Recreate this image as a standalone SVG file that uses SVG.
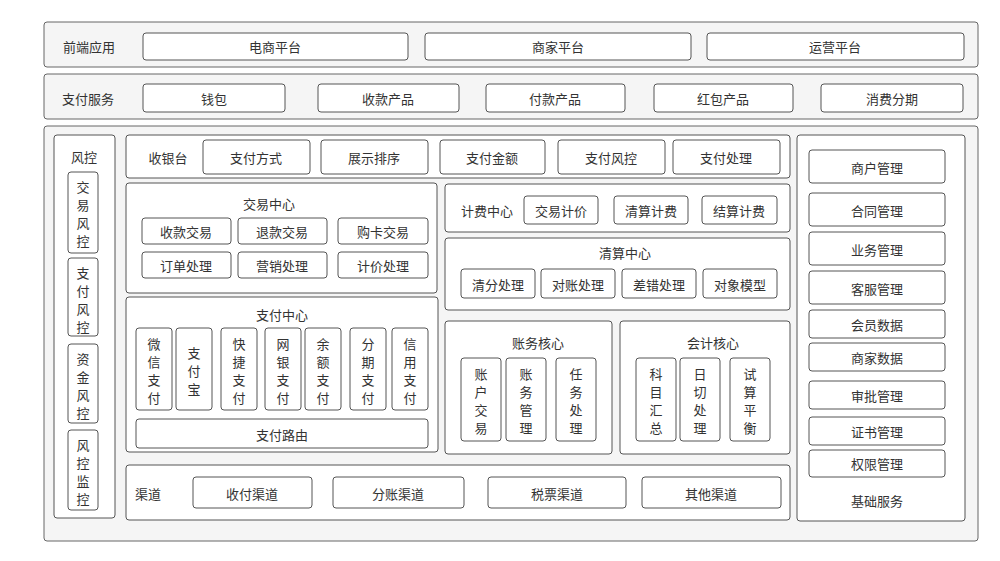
<svg xmlns="http://www.w3.org/2000/svg" width="1000" height="561" viewBox="0 0 1000 561">
<style>
.p{fill:#f5f5f5;stroke:#666;stroke-width:1}
.b{fill:#fff;stroke:#555;stroke-width:1}
text{font-family:"Noto Sans CJK SC","Noto Sans",sans-serif;font-size:13px;fill:#333;text-anchor:middle;dominant-baseline:central}
</style>
<rect width="1000" height="561" fill="#fff"/>
<g id="frontend">
<rect class="p" x="44" y="22" width="934" height="45" rx="3"/>
<text x="89" y="46">前端应用</text>
<rect class="b" x="143" y="33" width="265" height="27" rx="3"/><text x="275" y="46">电商平台</text>
<rect class="b" x="425" y="33" width="266" height="27" rx="3"/><text x="558" y="46">商家平台</text>
<rect class="b" x="707" y="33" width="257" height="27" rx="3"/><text x="835" y="46">运营平台</text>
</g>
<g id="payservice">
<rect class="p" x="44" y="74" width="934" height="45" rx="3"/>
<text x="88" y="98">支付服务</text>
<rect class="b" x="143" y="84" width="142" height="28" rx="3"/><text x="214" y="98">钱包</text>
<rect class="b" x="318" y="84" width="141" height="28" rx="3"/><text x="388" y="98">收款产品</text>
<rect class="b" x="486" y="84" width="139" height="28" rx="3"/><text x="555" y="98">付款产品</text>
<rect class="b" x="654" y="84" width="139" height="28" rx="3"/><text x="723" y="98">红包产品</text>
<rect class="b" x="821" y="84" width="142" height="28" rx="3"/><text x="892" y="98">消费分期</text>
</g>
<g id="main">
<rect class="p" x="44" y="126" width="934" height="415" rx="3"/>
</g>
<g id="risk">
<rect class="b" x="54" y="135" width="61" height="383" rx="3"/>
<text x="84" y="156">风控</text>
<rect class="b" x="68" y="172" width="30" height="81" rx="3"/>
<text x="83" y="186">交</text><text x="83" y="204">易</text><text x="83" y="222">风</text><text x="83" y="240">控</text>
<rect class="b" x="68" y="258" width="30" height="78" rx="3"/>
<text x="83" y="272">支</text><text x="83" y="290">付</text><text x="83" y="308">风</text><text x="83" y="326">控</text>
<rect class="b" x="68" y="344" width="30" height="79" rx="3"/>
<text x="83" y="358">资</text><text x="83" y="376">金</text><text x="83" y="394">风</text><text x="83" y="412">控</text>
<rect class="b" x="68" y="430" width="30" height="80" rx="3"/>
<text x="83" y="444">风</text><text x="83" y="462">控</text><text x="83" y="480">监</text><text x="83" y="498">控</text>
</g>
<g id="cashier">
<rect class="b" x="126" y="135" width="664" height="43" rx="3"/>
<text x="168" y="157">收银台</text>
<rect class="b" x="203" y="140" width="107" height="34" rx="3"/><text x="256" y="157">支付方式</text>
<rect class="b" x="321" y="140" width="107" height="34" rx="3"/><text x="374" y="157">展示排序</text>
<rect class="b" x="440" y="140" width="105" height="34" rx="3"/><text x="492" y="157">支付金额</text>
<rect class="b" x="558" y="140" width="107" height="34" rx="3"/><text x="611" y="157">支付风控</text>
<rect class="b" x="673" y="140" width="107" height="34" rx="3"/><text x="726" y="157">支付处理</text>
</g>
<g id="trade">
<rect class="b" x="126" y="183" width="311" height="110" rx="3"/>
<text x="269" y="203">交易中心</text>
<rect class="b" x="142" y="218" width="89" height="26" rx="3"/><text x="186" y="231">收款交易</text>
<rect class="b" x="238" y="218" width="89" height="26" rx="3"/><text x="282" y="231">退款交易</text>
<rect class="b" x="338" y="218" width="90" height="26" rx="3"/><text x="383" y="231">购卡交易</text>
<rect class="b" x="142" y="252" width="89" height="26" rx="3"/><text x="186" y="265">订单处理</text>
<rect class="b" x="238" y="252" width="89" height="26" rx="3"/><text x="282" y="265">营销处理</text>
<rect class="b" x="338" y="252" width="90" height="26" rx="3"/><text x="383" y="265">计价处理</text>
</g>
<g id="paycenter">
<rect class="b" x="126" y="297" width="312" height="155" rx="3"/>
<text x="282" y="314">支付中心</text>
<rect class="b" x="136" y="328" width="36" height="82" rx="3"/>
<text x="154" y="343">微</text><text x="154" y="361">信</text><text x="154" y="379">支</text><text x="154" y="397">付</text>
<rect class="b" x="176" y="328" width="36" height="82" rx="3"/>
<text x="194" y="352">支</text><text x="194" y="370">付</text><text x="194" y="388">宝</text>
<rect class="b" x="221" y="328" width="36" height="82" rx="3"/>
<text x="239" y="343">快</text><text x="239" y="361">捷</text><text x="239" y="379">支</text><text x="239" y="397">付</text>
<rect class="b" x="265" y="328" width="36" height="82" rx="3"/>
<text x="283" y="343">网</text><text x="283" y="361">银</text><text x="283" y="379">支</text><text x="283" y="397">付</text>
<rect class="b" x="305" y="328" width="36" height="82" rx="3"/>
<text x="323" y="343">余</text><text x="323" y="361">额</text><text x="323" y="379">支</text><text x="323" y="397">付</text>
<rect class="b" x="350" y="328" width="36" height="82" rx="3"/>
<text x="368" y="343">分</text><text x="368" y="361">期</text><text x="368" y="379">支</text><text x="368" y="397">付</text>
<rect class="b" x="392" y="328" width="36" height="82" rx="3"/>
<text x="410" y="343">信</text><text x="410" y="361">用</text><text x="410" y="379">支</text><text x="410" y="397">付</text>
<rect class="b" x="136" y="419" width="292" height="29" rx="3"/><text x="282" y="434">支付路由</text>
</g>
<g id="fee">
<rect class="b" x="445" y="184" width="345" height="48" rx="3"/>
<text x="487" y="210">计费中心</text>
<rect class="b" x="524" y="196" width="74" height="28" rx="3"/><text x="561" y="210">交易计价</text>
<rect class="b" x="614" y="196" width="74" height="28" rx="3"/><text x="651" y="210">清算计费</text>
<rect class="b" x="702" y="196" width="75" height="28" rx="3"/><text x="739" y="210">结算计费</text>
</g>
<g id="clearing">
<rect class="b" x="445" y="238" width="345" height="72" rx="3"/>
<text x="625" y="252">清算中心</text>
<rect class="b" x="461" y="269" width="74" height="29" rx="3"/><text x="498" y="284">清分处理</text>
<rect class="b" x="541" y="269" width="74" height="29" rx="3"/><text x="578" y="284">对账处理</text>
<rect class="b" x="622" y="269" width="74" height="29" rx="3"/><text x="659" y="284">差错处理</text>
<rect class="b" x="703" y="269" width="74" height="29" rx="3"/><text x="740" y="284">对象模型</text>
</g>
<g id="account">
<rect class="b" x="445" y="321" width="167" height="133" rx="3"/>
<text x="538" y="342">账务核心</text>
<rect class="b" x="461" y="358" width="40" height="83" rx="3"/>
<text x="481" y="373">账</text><text x="481" y="391">户</text><text x="481" y="409">交</text><text x="481" y="427">易</text>
<rect class="b" x="506" y="358" width="40" height="83" rx="3"/>
<text x="526" y="373">账</text><text x="526" y="391">务</text><text x="526" y="409">管</text><text x="526" y="427">理</text>
<rect class="b" x="556" y="358" width="40" height="83" rx="3"/>
<text x="576" y="373">任</text><text x="576" y="391">务</text><text x="576" y="409">处</text><text x="576" y="427">理</text>
</g>
<g id="accounting">
<rect class="b" x="620" y="321" width="170" height="133" rx="3"/>
<text x="713" y="342">会计核心</text>
<rect class="b" x="636" y="358" width="40" height="83" rx="3"/>
<text x="656" y="373">科</text><text x="656" y="391">目</text><text x="656" y="409">汇</text><text x="656" y="427">总</text>
<rect class="b" x="680" y="358" width="40" height="83" rx="3"/>
<text x="700" y="373">日</text><text x="700" y="391">切</text><text x="700" y="409">处</text><text x="700" y="427">理</text>
<rect class="b" x="730" y="358" width="40" height="83" rx="3"/>
<text x="750" y="373">试</text><text x="750" y="391">算</text><text x="750" y="409">平</text><text x="750" y="427">衡</text>
</g>
<g id="channel">
<rect class="b" x="126" y="465" width="664" height="55" rx="3"/>
<text x="148" y="493">渠道</text>
<rect class="b" x="193" y="477" width="119" height="31" rx="3"/><text x="252" y="493">收付渠道</text>
<rect class="b" x="333" y="477" width="131" height="31" rx="3"/><text x="398" y="493">分账渠道</text>
<rect class="b" x="488" y="477" width="138" height="31" rx="3"/><text x="557" y="493">税票渠道</text>
<rect class="b" x="642" y="477" width="139" height="31" rx="3"/><text x="711" y="493">其他渠道</text>
</g>
<g id="base">
<rect class="b" x="797" y="135" width="168" height="386" rx="3"/>
<rect class="b" x="809" y="150" width="136" height="33" rx="3"/><text x="877" y="167">商户管理</text>
<rect class="b" x="809" y="193" width="136" height="33" rx="3"/><text x="877" y="210">合同管理</text>
<rect class="b" x="809" y="232" width="136" height="33" rx="3"/><text x="877" y="249">业务管理</text>
<rect class="b" x="809" y="271" width="136" height="33" rx="3"/><text x="877" y="288">客服管理</text>
<rect class="b" x="809" y="310" width="136" height="28" rx="3"/><text x="877" y="324">会员数据</text>
<rect class="b" x="809" y="343" width="136" height="28" rx="3"/><text x="877" y="357">商家数据</text>
<rect class="b" x="809" y="381" width="136" height="28" rx="3"/><text x="877" y="395">审批管理</text>
<rect class="b" x="809" y="417" width="136" height="28" rx="3"/><text x="877" y="431">证书管理</text>
<rect class="b" x="809" y="450" width="136" height="27" rx="3"/><text x="877" y="463">权限管理</text>
<text x="877" y="500">基础服务</text>
</g>
<g id="connectors"/>
</svg>
